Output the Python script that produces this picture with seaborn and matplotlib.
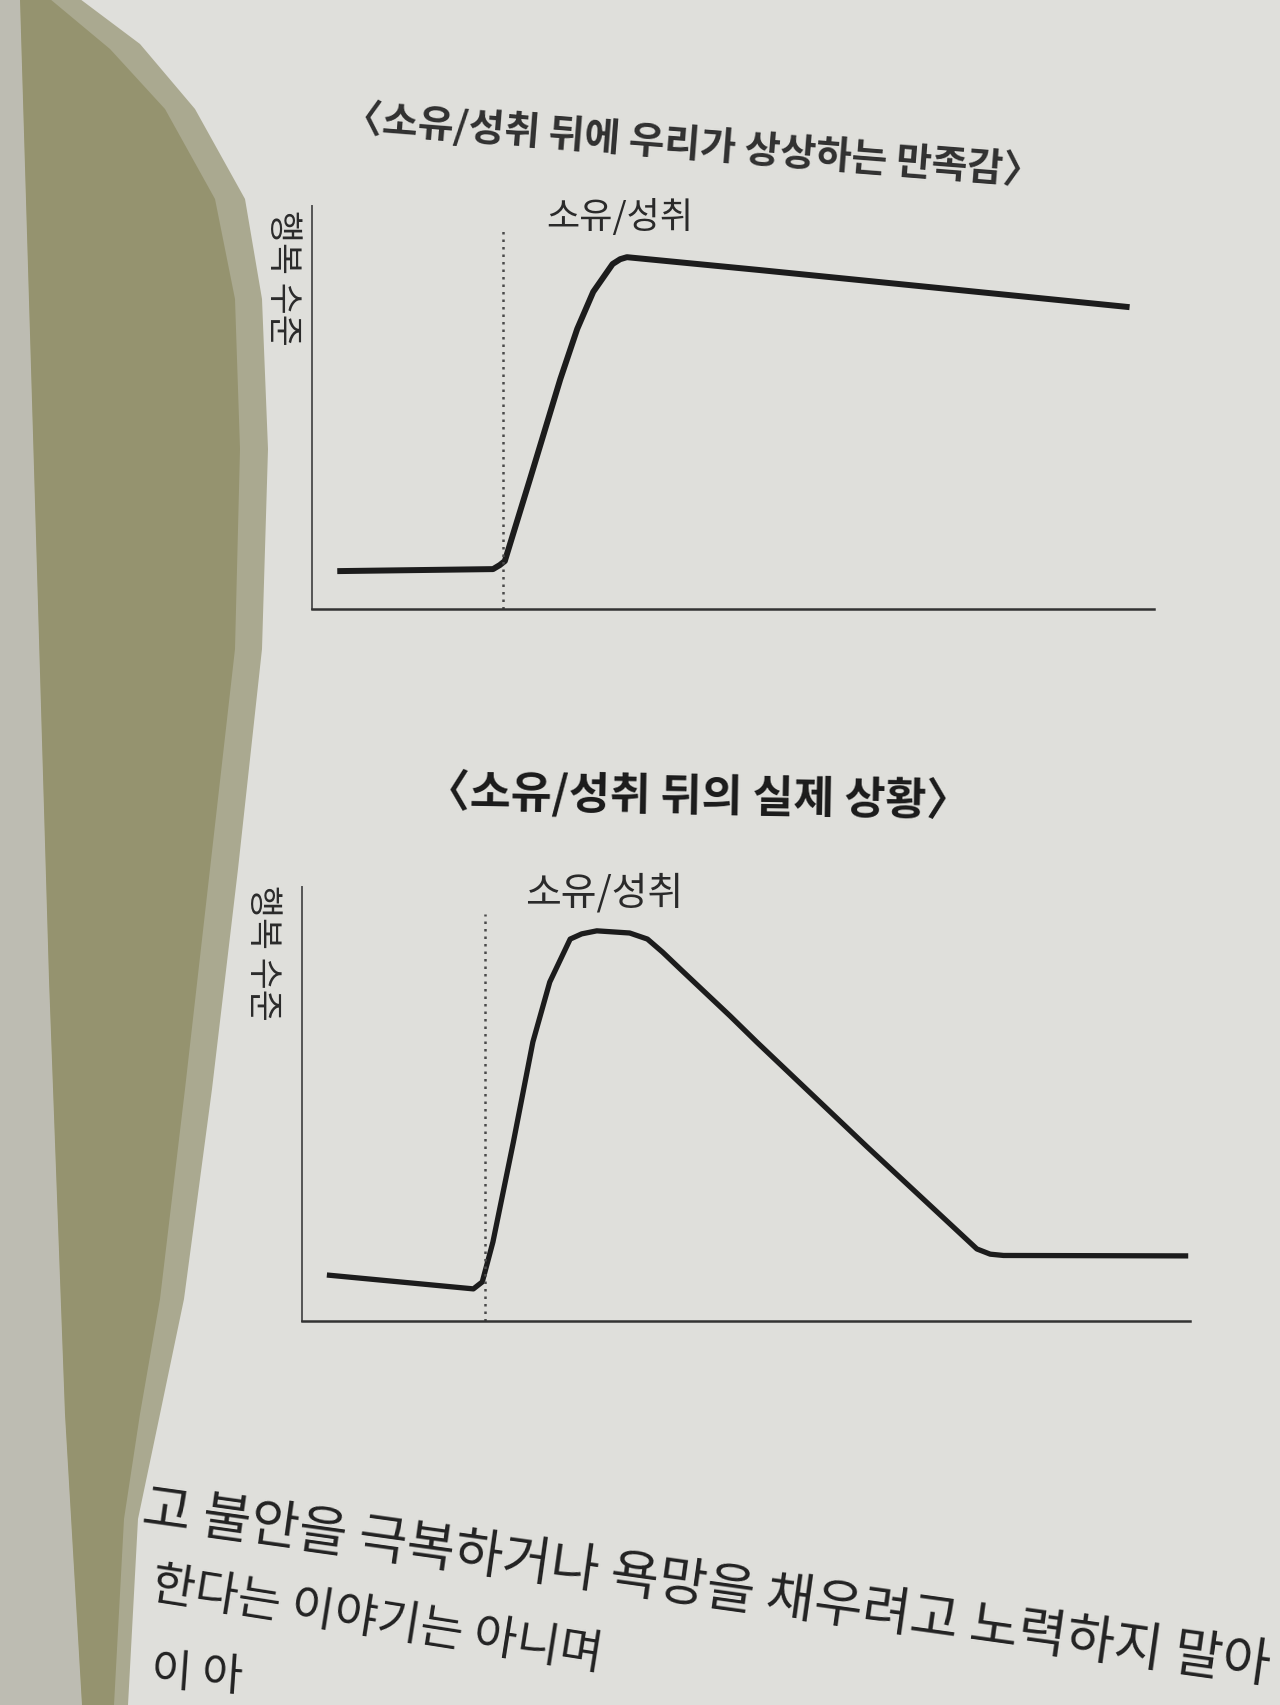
import matplotlib
matplotlib.use("Agg")
import matplotlib.pyplot as plt
from matplotlib.patches import Polygon
import seaborn as sns

# --- data (arbitrary units 0-100) ---
x_imagined = [3.0, 21.5, 22.3, 22.9, 25.9, 29.5, 31.5, 33.4, 35.7, 36.6, 37.4, 53.2, 97.1]
y_imagined = [9.4, 9.9, 10.9, 11.9, 32.3, 57.1, 69.5, 78.7, 85.6, 86.8, 87.3, 84.1, 74.9]
event_imagined = 22.7

x_real = [2.8, 19.3, 20.3, 21.5, 23.8, 26.0, 27.9, 30.2, 31.5, 33.2, 36.9, 38.9,
          40.6, 42.6, 48.2, 51.2, 63.6, 76.0, 77.5, 79.0, 99.8]
y_real = [10.6, 7.4, 9.0, 18.2, 41.2, 64.3, 78.1, 88.0, 89.2, 89.9, 89.4, 88.0,
          85.0, 81.1, 70.3, 64.3, 40.2, 16.6, 15.4, 15.1, 15.0]
event_real = 20.6

title_imagined = "〈소유/성취 뒤에 우리가 상상하는 만족감〉"
title_real = "〈소유/성취 뒤의 실제 상황〉"
event_label = "소유/성취"
y_label = "행복 수준"
body_lines = ["고 불안을 극복하거나 욕망을 채우려고 노력하지 말아",
              "한다는 이야기는 아니며",
              "이 아"]

# --- style ---
sns.set_style("white")
plt.rcParams['font.family'] = ['Noto Sans CJK KR', 'DejaVu Sans']

page = "#dfdfdb"
ink = "#1c1c1c"
W, H = 1280, 1706

fig = plt.figure(figsize=(12.8, 17.06), dpi=100)
fig.patch.set_facecolor(page)


def px(points):
    return [(x / W, 1 - y / H) for x, y in points]


# page curl shadow and the edge of the facing page
left_page = [(0, 0), (20, 0), (33, 435), (49, 980), (65, 1415), (82, 1706), (0, 1706)]
shadow_core = [(20, 0), (50, 0), (110, 50), (165, 110), (215, 200), (235, 300),
               (240, 450), (235, 650), (210, 870), (185, 1090), (160, 1300),
               (140, 1415), (124, 1520), (114, 1706), (82, 1706), (65, 1415),
               (49, 980), (33, 435)]
shadow_soft = [(20, 0), (80, 0), (140, 45), (195, 110), (245, 200), (262, 300),
               (268, 450), (262, 650), (238, 870), (212, 1090), (184, 1300),
               (160, 1415), (138, 1520), (128, 1706), (82, 1706), (65, 1415),
               (49, 980), (33, 435)]
fig.add_artist(Polygon(px(left_page), closed=True, transform=fig.transFigure,
                       facecolor="#bdbcb2", edgecolor="none", zorder=-3))
fig.add_artist(Polygon(px(shadow_soft), closed=True, transform=fig.transFigure,
                       facecolor="#aaa990", edgecolor="none", zorder=-2))
fig.add_artist(Polygon(px(shadow_core), closed=True, transform=fig.transFigure,
                       facecolor="#95936f", edgecolor="none", zorder=-1))


def draw_panel(ax, xs, ys, event_x, event_top, label_xy, label_size, ylab_xy, lw):
    ax.set_facecolor("none")
    sns.lineplot(x=xs, y=ys, ax=ax, color=ink, lw=lw, sort=False,
                 estimator=None, solid_joinstyle="round", solid_capstyle="butt")
    ax.axvline(event_x, ymin=0, ymax=event_top, color="#4a4a4a", lw=1.8,
               linestyle=(0, (1, 2)))
    ax.text(label_xy[0], label_xy[1], event_label, ha="center", va="center",
            fontsize=label_size, color="#2a2a2a")
    ax.text(ylab_xy[0], ylab_xy[1], y_label, transform=ax.transAxes,
            rotation=-90, ha="center", va="top", fontsize=25, color="#2a2a2a")
    ax.set_xlim(0, 100)
    ax.set_ylim(0, 100)
    ax.set_xticks([])
    ax.set_yticks([])
    for side in ["top", "right"]:
        ax.spines[side].set_visible(False)
    ax.spines["left"].set_color("#555555")
    ax.spines["left"].set_linewidth(1.4)
    ax.spines["bottom"].set_color("#333333")
    ax.spines["bottom"].set_linewidth(1.8)


ax1 = fig.add_axes([312 / W, 1 - 610 / H, 842 / W, 403 / H])
draw_panel(ax1, x_imagined, y_imagined, event_imagined, 0.943,
           (36.6, 97.3), 26, (-0.035, 0.993), 4.3)

ax2 = fig.add_axes([302 / W, 1 - 1322 / H, 888 / W, 434 / H])
draw_panel(ax2, x_real, y_real, event_real, 0.938,
           (34.0, 98.8), 28, (-0.044, 1.007), 3.8)

# titles (slightly tilted like the photographed page)
fig.text(693 / W, 1 - 145 / H, title_imagined, ha="center", va="center",
         fontsize=28, fontweight="bold", color="#303030", rotation=-4.5)
fig.text(698 / W, 1 - 798 / H, title_real, ha="center", va="center",
         fontsize=32, fontweight="bold", color="#1a1a1a", rotation=-1)

# body text at the bottom of the page
body_starts = [(141, 1524, -8, 38, "baseline"),
               (150, 1598, -9, 34, "baseline"),
               (150, 1684, -4, 32, "baseline")]
for line, (bx, by, rot, size, va) in zip(body_lines, body_starts):
    fig.text(bx / W, 1 - by / H, line, ha="left", va=va,
             rotation=rot, rotation_mode="anchor", fontsize=size, color="#222222")

fig.savefig("out.png", dpi=100, facecolor=fig.get_facecolor())
